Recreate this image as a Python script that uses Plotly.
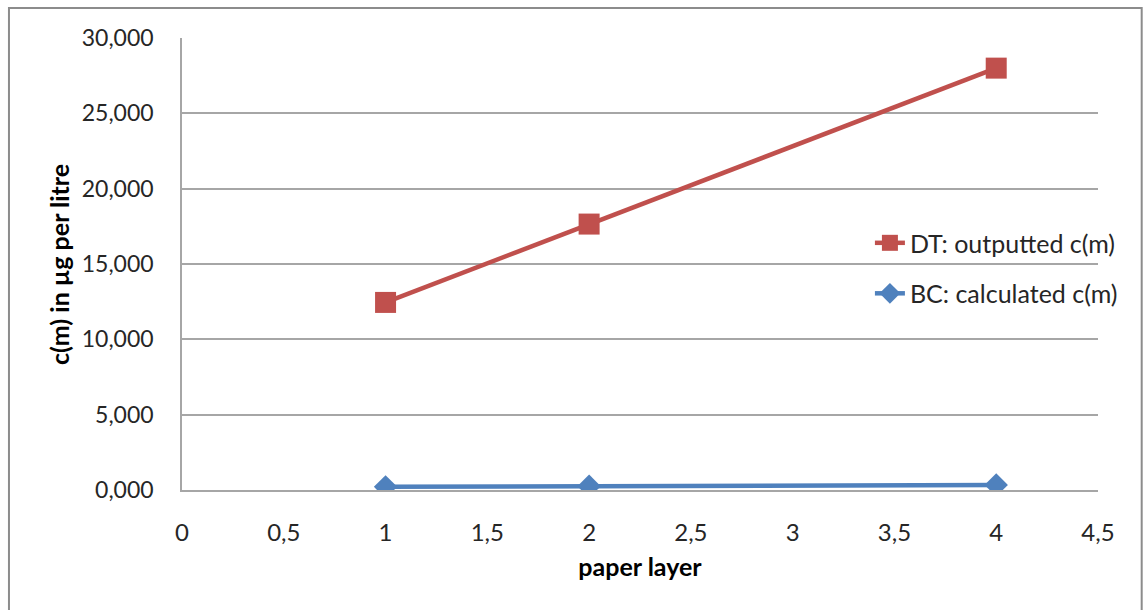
import plotly.graph_objects as go

# paper layers and measured concentrations (µg per litre)
layers = [1, 2, 4]
dt_outputted = [12.45, 17.65, 28.0]
bc_calculated = [0.21, 0.25, 0.34]

red = "#C0504D"
blue = "#4F81BD"
grid = "#A6A6A6"
font_family = "Lato, 'Open Sans', sans-serif"

fig = go.Figure()
fig.add_trace(go.Scatter(
    x=layers, y=dt_outputted, name="DT: outputted c(m)",
    mode="lines+markers", legendgroup="dt",
    line=dict(color=red, width=4.5),
    marker=dict(symbol="square", size=21, color=red),
))
fig.add_trace(go.Scatter(
    x=layers, y=bc_calculated, name="BC: calculated c(m)",
    mode="lines+markers", legendgroup="bc",
    line=dict(color=blue, width=4.5),
    marker=dict(symbol="diamond", size=18, color=blue),
))

fig.update_layout(
    width=1144, height=610,
    margin=dict(l=182, r=46, t=38, b=120),
    paper_bgcolor="white", plot_bgcolor="white",
    separators=",.",
    font=dict(family=font_family, color="#262626"),
    showlegend=True,
    legend=dict(
        x=0.751, y=0.491, xanchor="left", yanchor="middle",
        bgcolor="rgba(0,0,0,0)",
        font=dict(size=25, color="#262626"),
        traceorder="grouped", tracegroupgap=15,
    ),
    xaxis=dict(
        range=[0, 4.5], dtick=0.5, tick0=0,
        showgrid=False, zeroline=False,
        showline=True, linecolor=grid, linewidth=1.5,
        ticks="", ticklabelstandoff=20,
        tickfont=dict(size=24, color="#262626"),
        title=dict(text="<b>paper layer</b>", font=dict(size=25, color="#000000"), standoff=14),
    ),
    yaxis=dict(
        range=[0, 30], dtick=5, tick0=0, tickformat=".3f",
        showgrid=True, gridcolor=grid, gridwidth=1.5,
        zeroline=False,
        showline=True, linecolor=grid, linewidth=1.5,
        ticks="", ticklabelstandoff=22,
        tickfont=dict(size=23, color="#262626"),
    ),
    annotations=[dict(
        text="<b>c(m) in µg per litre</b>", textangle=-90,
        xref="paper", yref="paper", x=-0.1343, y=0.5,
        xanchor="center", yanchor="middle", showarrow=False,
        font=dict(size=25, color="#000000"),
    )],
    shapes=[dict(
        type="rect", xref="paper", yref="paper",
        x0=-0.1889, x1=1.0477, y0=-0.28, y1=1.0664,
        line=dict(color="#8C8C8C", width=2), layer="below",
    )],
)

fig.write_html("out.html")
